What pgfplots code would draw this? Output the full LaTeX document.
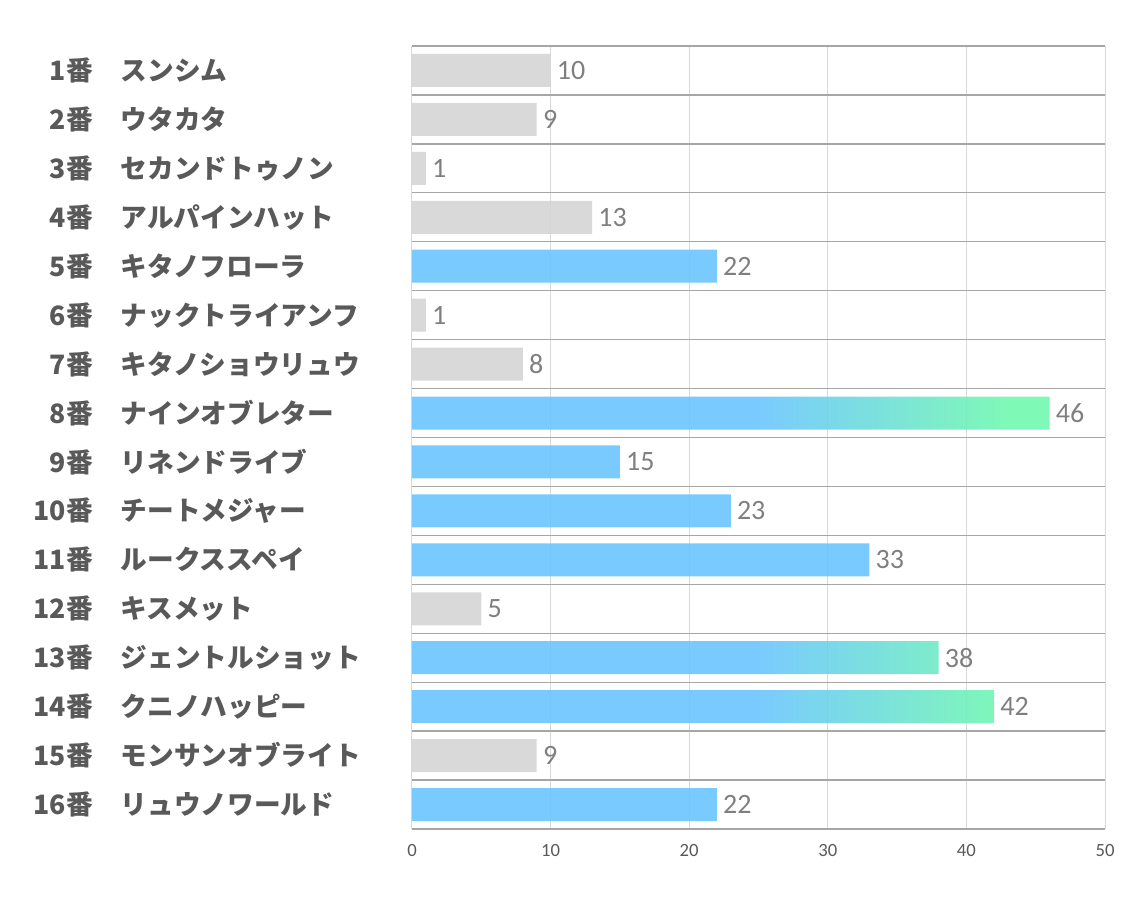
\documentclass[border=0pt]{standalone}
\usepackage{fontspec}
\usepackage{pgfplots}
\pgfplotsset{compat=1.18}
\setmainfont{Carlito}
\newfontfamily\jp{Noto Sans CJK JP}
\definecolor{bargray}{HTML}{D5D5D5}
\definecolor{barblue}{HTML}{6AC5FF}
\definecolor{bargreen}{HTML}{71F9AE}
\definecolor{sepgray}{HTML}{A6A6A6}
\definecolor{gridgray}{HTML}{D9D9D9}
\definecolor{lblgray}{HTML}{595959}
\definecolor{valgray}{HTML}{7F7F7F}
\pgfdeclarehorizontalshading{barshade}{100bp}{color(0bp)=(barblue); color(52bp)=(barblue); color(72bp)=(bargreen); color(100bp)=(bargreen)}
\newcommand{\lab}[2]{\makebox[60pt][r]{#1番}\hspace{21pt}\makebox[218.25pt][l]{#2}}

\begin{document}
\begin{tikzpicture}
\path[use as bounding box] (-309pt,-58.5pt) rectangle (541.5pt,621.75pt);
\begin{axis}[
    at={(0,0)}, anchor=south west,
    scale only axis, width=519.75pt, height=587.25pt,
    /pgf/number format/assume math mode=true,
    xbar, bar width=24.75pt, bar shift=0pt,
    xmin=0, xmax=50, ymin=0.5, ymax=16.5, y dir=reverse,
    xtick={0,10,...,50}, ytick={1,...,16},
    minor ytick={0.5,1.5,...,16.5},
    xmajorgrids, yminorgrids,
    major x grid style={gridgray, line width=0.75pt},
    minor y grid style={sepgray, line width=1pt},
    axis line style={draw=none},
    major tick length=0pt, minor tick length=0pt,
    tick style={draw=none},
    xticklabel style={font=\fontsize{14}{16}\selectfont, text=lblgray, yshift=-8pt},
    yticklabel style={anchor=east, inner sep=0pt, font=\jp\bfseries\fontsize{20}{24}\selectfont, text=lblgray},
    yticklabels={\lab{1}{スンシム}, \lab{2}{ウタカタ}, \lab{3}{セカンドトゥノン},
        \lab{4}{アルパインハット}, \lab{5}{キタノフローラ}, \lab{6}{ナックトライアンフ},
        \lab{7}{キタノショウリュウ}, \lab{8}{ナインオブレター}, \lab{9}{リネンドライブ},
        \lab{10}{チートメジャー}, \lab{11}{ルークススペイ}, \lab{12}{キスメット},
        \lab{13}{ジェントルショット}, \lab{14}{クニノハッピー}, \lab{15}{モンサンオブライト},
        \lab{16}{リュウノワールド}},
    nodes near coords,
    nodes near coords style={anchor=west, inner sep=0pt, xshift=4.5pt,
        font=\fontsize{21}{24}\selectfont, text=valgray, text opacity=1},
    point meta=x,
    clip=false,
]
\addplot[draw=none, fill=bargray, fill opacity=0.9] coordinates {
    (10,1) (9,2) (1,3) (13,4) (1,6) (8,7) (5,12) (9,15)};
\addplot[draw=none, fill=barblue, fill opacity=0.9] coordinates {
    (22,5) (15,9) (23,10) (33,11) (22,16)};
\addplot[draw=none, shade, shading=barshade, fill opacity=0.9] coordinates {
    (46,8) (38,13) (42,14)};
\end{axis}
\end{tikzpicture}
\end{document}
